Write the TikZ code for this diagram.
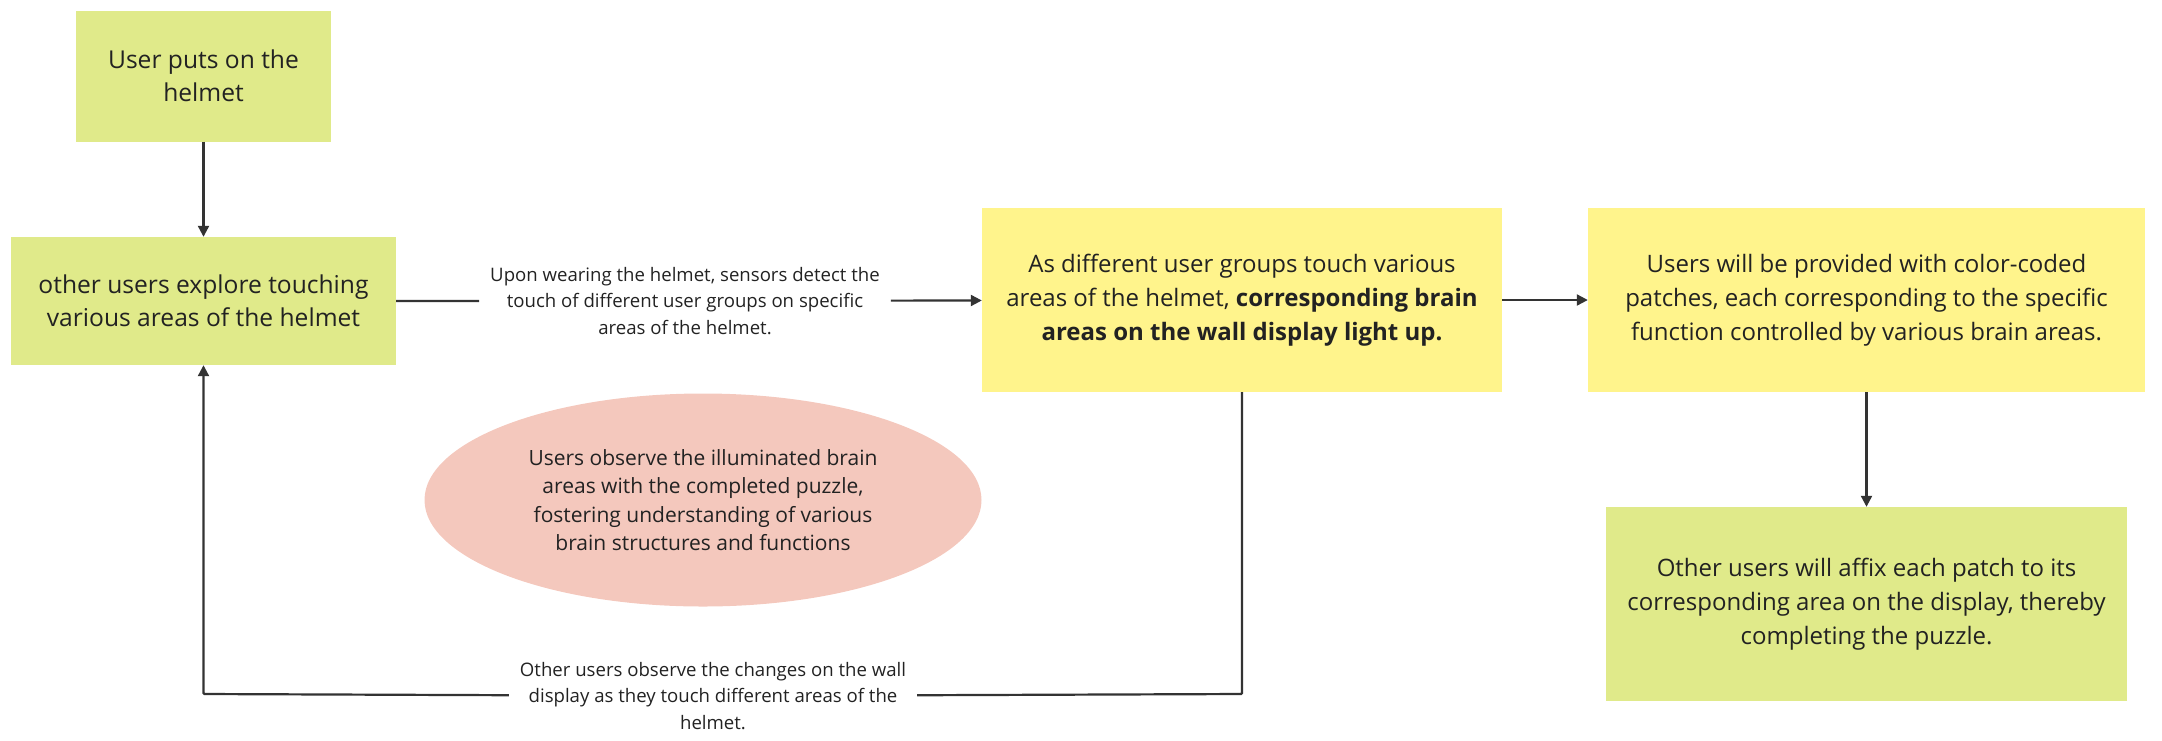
\documentclass[tikz,border=0pt]{standalone}
\usepackage{fontspec}
\setmainfont{Open Sans}
\usetikzlibrary{arrows.meta,shapes.geometric}
\definecolor{greenbox}{HTML}{E0EA8A}
\definecolor{yellowbox}{HTML}{FFF48C}
\definecolor{pinkbox}{HTML}{F4C8BD}
\definecolor{ink}{HTML}{222222}
\definecolor{linec}{HTML}{333333}
\begin{document}
\begin{tikzpicture}[x=1pt,y=-1pt,
  box/.style={rectangle, inner sep=0pt, align=center, text=ink, font=\fontsize{24}{34}\selectfont},
  gbox/.style={box, fill=greenbox},
  ybox/.style={box, fill=yellowbox},
  big/.style={font=\fontsize{24.6}{33}\selectfont},
  lab/.style={align=center, text=ink, inner xsep=11pt, inner ysep=2pt, font=\fontsize{18.6}{26.5}\selectfont},
  conn/.style={draw=linec, line width=2.2pt},
  arr/.style={conn, -{Triangle[length=11pt,width=11pt]}}]
\useasboundingbox (0,0) rectangle (2162,740);

\node[gbox, big, minimum width=255pt, minimum height=131pt] (b1) at (203.5,76) {User puts on the\\helmet};
\node[gbox, big, minimum width=385pt, minimum height=128pt] (b2) at (203.5,301) {other users explore touching\\various areas of the helmet};
\node[ybox, minimum width=520pt, minimum height=184pt] (b3) at (1242,300) {As different user groups touch various\\areas of the helmet, \textbf{corresponding brain}\\\textbf{areas on the wall display light up.}};
\node[ybox, minimum width=557pt, minimum height=184pt] (b4) at (1866.5,300) {Users will be provided with color-coded\\patches, each corresponding to the specific\\function controlled by various brain areas.};
\node[gbox, minimum width=521pt, minimum height=194pt] (b5) at (1866.5,604) {Other users will affix each patch to its\\corresponding area on the display, thereby\\completing the puzzle.};
\node[ellipse, fill=pinkbox, inner sep=0pt, minimum width=557pt, minimum height=213pt, align=center, text=ink, font=\fontsize{21}{28.5}\selectfont] (el) at (703,500) {Users observe the illuminated brain\\areas with the completed puzzle,\\fostering understanding of various\\brain structures and functions};

\node[lab] (l1) at (685,301) {Upon wearing the helmet, sensors detect the\\touch of different user groups on specific\\areas of the helmet.};
\node[lab] (l2) at (713,696) {Other users observe the changes on the wall\\display as they touch different areas of the\\helmet.};

\coordinate (c1) at (1242,694);
\coordinate (c2) at (203.5,694);

\draw[arr] (b1) -- (b2);
\draw[arr] (b2) -- (l1) -- (b3);
\draw[arr] (b3) -- (b4);
\draw[arr] (b4) -- (b5);
\draw[arr, rounded corners=1pt] (b3.south) -- (c1) -- (l2) -- (c2) -- (b2.south);
\end{tikzpicture}
\end{document}
